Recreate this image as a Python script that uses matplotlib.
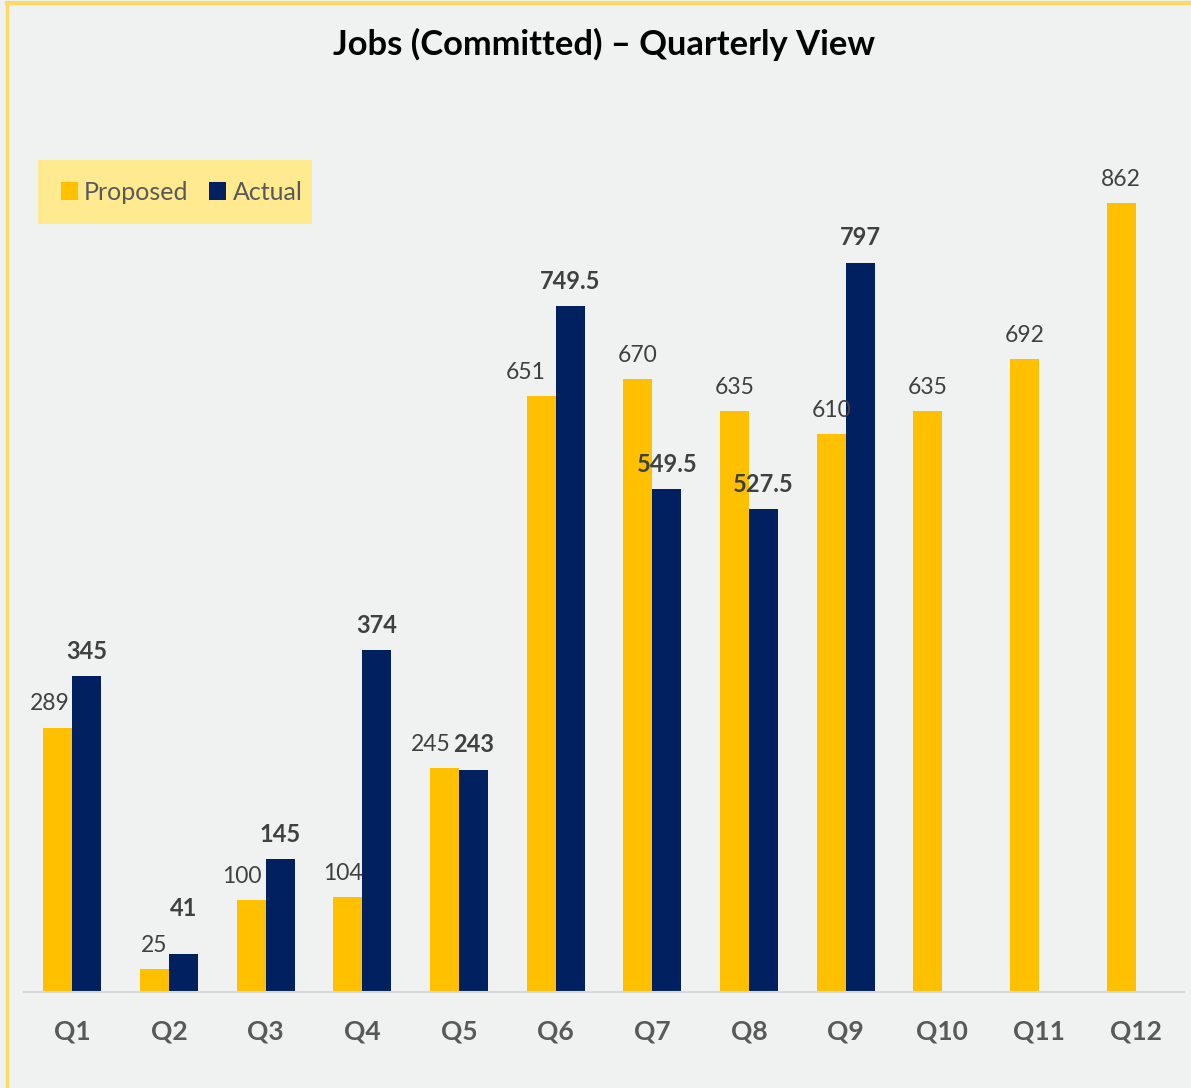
import numpy as np
import matplotlib
matplotlib.use("Agg")
import matplotlib.pyplot as plt
from matplotlib.patches import Rectangle

plt.rcParams['font.family'] = ['Lato', 'DejaVu Sans']

# ---- data ----
quarters = ['Q1', 'Q2', 'Q3', 'Q4', 'Q5', 'Q6', 'Q7', 'Q8', 'Q9', 'Q10', 'Q11', 'Q12']
proposed = [289, 25, 100, 104, 245, 651, 670, 635, 610, 635, 692, 862]
actual   = [345, 41, 145, 374, 243, 749.5, 549.5, 527.5, 797, None, None, None]

# label nudges (points) like Excel's auto layout, to keep labels apart
prop_dx = {0: -5.5, 2: -7, 3: -3.5, 4: -10, 5: -11.5}
act_dy  = {1: 15}

YELLOW = '#FFC000'
NAVY   = '#002060'
BG     = '#F0F1F1'

W, H = 1191, 1088
fig = plt.figure(figsize=(W / 100, H / 100), dpi=100, facecolor=BG)

# yellow frame on top / left edge (screenshot crop)
fig.add_artist(plt.Line2D([6.5 / W, 6.5 / W], [0, 1 - 3 / H], color='#FFD966', lw=2.5))
fig.add_artist(plt.Line2D([6.5 / W, 1], [1 - 3 / H, 1 - 3 / H], color='#FFD966', lw=3))

ax = fig.add_axes([24 / W, 1 - 992 / H, (1184 - 24) / W, (992 - 130) / H])
ax.set_facecolor(BG)

x = np.arange(len(quarters))
w = 0.30
ax.bar(x - w / 2, proposed, w, color=YELLOW, label='Proposed', zorder=2)
act_i = [i for i, v in enumerate(actual) if v is not None]
act_v = [actual[i] for i in act_i]
ax.bar(x[act_i] + w / 2, act_v, w, color=NAVY, label='Actual', zorder=2)

def fmt(v):
    return f'{v:g}'

for i, v in enumerate(proposed):
    ax.annotate(fmt(v), (x[i] - w / 2, v), xytext=(prop_dx.get(i, 0), 9.5),
                textcoords='offset points', ha='center', va='bottom',
                fontsize=16.5, color='#404040', zorder=3)
for i, v in zip(act_i, act_v):
    ax.annotate(fmt(v), (x[i] + w / 2, v), xytext=(0, 9.5 + act_dy.get(i, 0)),
                textcoords='offset points', ha='center', va='bottom',
                fontsize=17, fontweight='bold', color='#404040', zorder=3)

ax.set_xlim(-0.5, len(quarters) - 0.5)
ax.set_ylim(0, 942)
ax.set_yticks([])
for s in ['top', 'right', 'left']:
    ax.spines[s].set_visible(False)
ax.spines['bottom'].set_color('#D9D9D9')
ax.spines['bottom'].set_linewidth(1.5)
ax.set_xticks(x)
ax.set_xticklabels(quarters, fontsize=19, fontweight='bold', color='#595959')
ax.tick_params(axis='x', length=0, pad=20)

fig.text(604 / W, 1 - 44 / H, 'Jobs (Committed) \u2013 Quarterly View', ha='center',
         va='center', fontsize=24.8, fontweight='bold', color='#000000')

# legend box
fig.patches.append(Rectangle((38 / W, 1 - 224 / H), (312 - 38) / W, (224 - 160) / H,
                             transform=fig.transFigure, facecolor='#FFEA8F',
                             edgecolor='none', zorder=0))
fig.legend(loc='center left', bbox_to_anchor=(38 / W, 1 - 192 / H), ncol=2,
           frameon=False, fontsize=18, handlelength=0.7, handleheight=0.7,
           handletextpad=0.25, columnspacing=0.8, labelcolor='#595959')

fig.savefig('out.png', dpi=100, facecolor=BG)
